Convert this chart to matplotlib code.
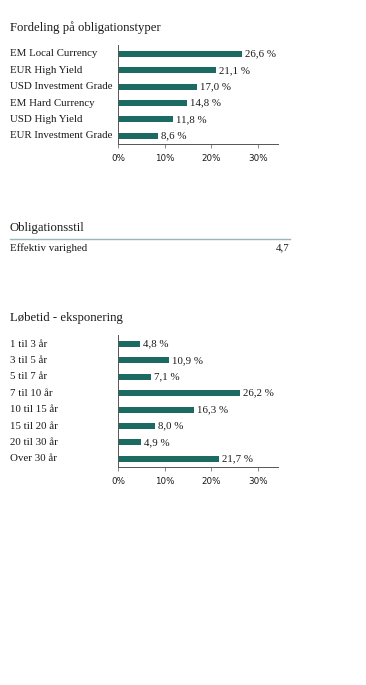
import matplotlib
matplotlib.use("Agg")
import matplotlib.pyplot as plt
from matplotlib.transforms import blended_transform_factory

plt.rcParams['font.family'] = ['Liberation Serif', 'DejaVu Serif']

# data
types = ['EM Local Currency', 'EUR High Yield', 'USD Investment Grade',
         'EM Hard Currency', 'USD High Yield', 'EUR Investment Grade']
type_vals = [26.6, 21.1, 17.0, 14.8, 11.8, 8.6]

style_label = 'Effektiv varighed'
style_value = '4,7'

maturities = ['1 til 3 år', '3 til 5 år', '5 til 7 år', '7 til 10 år',
              '10 til 15 år', '15 til 20 år', '20 til 30 år', 'Over 30 år']
mat_vals = [4.8, 10.9, 7.1, 26.2, 16.3, 8.0, 4.9, 21.7]

xticks = [0, 10, 20, 30]
xticklabels = ['0%', '10%', '20%', '30%']

W, H = 366, 685
BAR = '#1b6b62'
TXT = '#1a1a1a'
FS = 7.8
TFS = 9.2

fig = plt.figure(figsize=(W / 100, H / 100), dpi=100)


def px_axes(left, top, right, bottom):
    return fig.add_axes([left / W, 1 - bottom / H, (right - left) / W, (bottom - top) / H])


def bar_chart(top, bottom, cats, vals, title, title_y):
    ax = px_axes(118, top, 278, bottom)
    n = len(cats)
    ax.barh(range(n), vals, height=0.37, color=BAR)
    ax.set_ylim(n - 0.5, -0.55)
    ax.set_xlim(0, 34.3)
    ax.set_yticks([])
    ax.set_xticks(xticks)
    ax.set_xticklabels(xticklabels, fontsize=6.3, color=TXT, family=['DejaVu Sans'])
    ax.tick_params(axis='x', length=3, width=0.6, color='#777777', pad=4)
    for s in ['top', 'right']:
        ax.spines[s].set_visible(False)
    for s in ['left', 'bottom']:
        ax.spines[s].set_color('#555555')
        ax.spines[s].set_linewidth(0.7)
    ax.patch.set_alpha(0)
    tr = blended_transform_factory(fig.transFigure, ax.transData)
    for i, (c, v) in enumerate(zip(cats, vals)):
        ax.text(10 / W, i, c, transform=tr, ha='left', va='center', fontsize=FS, color=TXT)
        ax.text(v + 0.6, i, f'{v:.1f} %'.replace('.', ','), ha='left', va='center',
                fontsize=FS, color=TXT)
    fig.text(10 / W, 1 - title_y / H, title, ha='left', va='center', fontsize=TFS, color=TXT)


bar_chart(45, 144, types, type_vals, 'Fordeling på obligationstyper', 28)

# obligationsstil block
fig.text(10 / W, 1 - 228 / H, 'Obligationsstil', ha='left', va='center', fontsize=TFS, color=TXT)
fig.add_artist(plt.Line2D([10 / W, 290 / W], [1 - 238.5 / H, 1 - 238.5 / H],
                          color='#9ab5bd', linewidth=1.0))
fig.text(10 / W, 1 - 248 / H, style_label, ha='left', va='center', fontsize=FS, color=TXT)
fig.text(290 / W, 1 - 248 / H, style_value, ha='right', va='center', fontsize=FS, color=TXT)

bar_chart(335, 467, maturities, mat_vals, 'Løbetid - eksponering', 318)

fig.savefig('out.png', dpi=100)
